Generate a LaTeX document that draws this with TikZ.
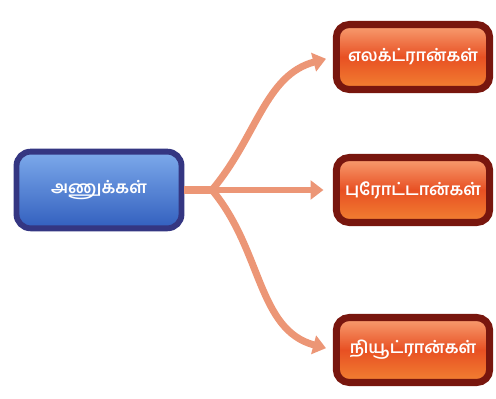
\documentclass[tikz,border=0pt]{standalone}
\usepackage{fontspec}
\newfontfamily\tamilfont[Script=Tamil]{Hind Madurai}
\usetikzlibrary{arrows.meta}
\definecolor{navyline}{RGB}{52,54,130}
\definecolor{blueup}{RGB}{125,170,235}
\definecolor{bluedown}{RGB}{50,95,190}
\definecolor{redline}{RGB}{120,22,14}
\definecolor{orangeup}{RGB}{248,160,115}
\definecolor{orangemid}{RGB}{232,80,35}
\definecolor{orangedown}{RGB}{242,130,50}
\definecolor{salmon}{RGB}{236,150,118}

\begin{document}
\begin{tikzpicture}[x=0.03cm,y=0.03cm,
    atombox/.style={draw=navyline,line width=5pt,rounded corners=12pt,
        top color=blueup,bottom color=bluedown,
        minimum width=4.95cm,minimum height=2.3cm,
        text=white,font=\tamilfont\Large\bfseries},
    partbox/.style={draw=redline,line width=6pt,rounded corners=11pt,
        top color=orangeup,bottom color=orangedown,middle color=orangemid,
        minimum width=4.6cm,minimum height=1.95cm,
        text=white,font=\tamilfont\Large\bfseries},
    branch/.style={salmon,line width=6pt,-{Triangle[length=11pt,width=16pt]}}]

    % fix the size of the page
    \useasboundingbox (0,0) rectangle (496,399);

    % box on the left
    \node[atombox] (atom) at (99,209) {அணுக்கள்};

    % three boxes on the right
    \node[partbox] (electron) at (413,342) {எலக்ட்ரான்கள்};
    \node[partbox] (proton) at (413,209) {புரோட்டான்கள்};
    \node[partbox] (neutron) at (413,49) {நியூட்ரான்கள்};

    % point where the arrows split
    \coordinate (fork) at (212,209);

    % arrows
    \draw[salmon,line width=6pt] (atom.east) -- (fork);
    \draw[branch,shorten >=6pt] (fork) to[out=50,in=195] (electron.west);
    \draw[branch,line width=5pt,shorten >=8pt] (fork) -- (proton.west);
    \draw[branch,shorten >=6pt] (fork) to[out=-50,in=165] (neutron.west);

\end{tikzpicture}
\end{document}
